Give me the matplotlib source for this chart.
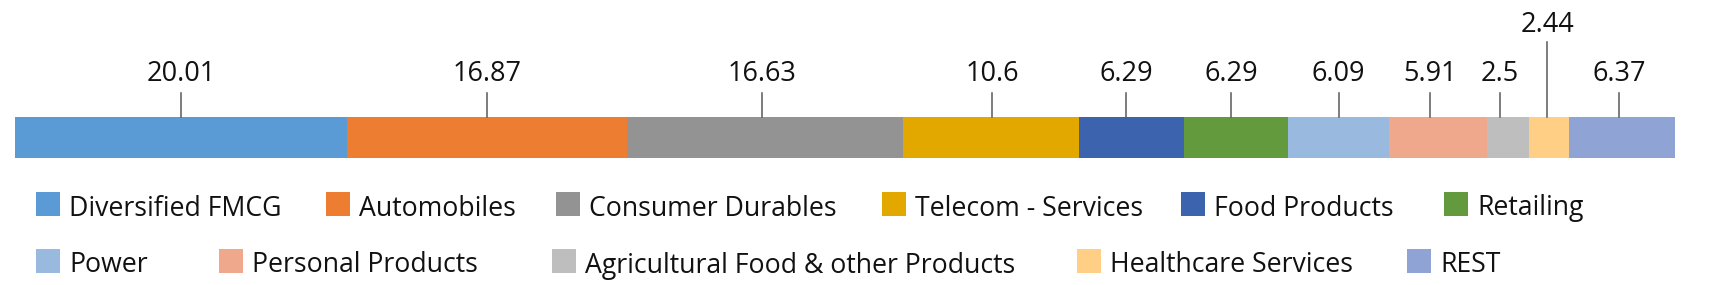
import matplotlib
matplotlib.use("Agg")
import matplotlib.pyplot as plt
from matplotlib.patches import Rectangle

# sector weights (%)
sectors = ["Diversified FMCG", "Automobiles", "Consumer Durables", "Telecom - Services",
           "Food Products", "Retailing", "Power", "Personal Products",
           "Agricultural Food & other Products", "Healthcare Services", "REST"]
weights = [20.01, 16.87, 16.63, 10.6, 6.29, 6.29, 6.09, 5.91, 2.5, 2.44, 6.37]
labels = ["20.01", "16.87", "16.63", "10.6", "6.29", "6.29", "6.09", "5.91", "2.5", "2.44", "6.37"]
colors = ["#5B9BD5", "#ED7D31", "#939393", "#E2A800", "#3C64AE", "#629A3D",
          "#99B9DF", "#F0A88C", "#BEBEBE", "#FFCF86", "#8FA3D4"]
# labels that need to be lifted to avoid overlapping neighbours
lifted = [False] * 9 + [True, False]
# small horizontal nudges of the label leaders (pixels), as in the original
nudge = [0, 0, -3.5, 1, -5, -5, 0, -8, -8.5, -2, -3]

W, H = 1724, 285
plt.rcParams["font.family"] = ["Open Sans", "DejaVu Sans"]

fig = plt.figure(figsize=(W / 100, H / 100), dpi=100)

# bar axes: x in percent, y in pixel rows from the top
bar_w = 1660
ax = fig.add_axes([15 / W, 0, bar_w / W, 1])
ax.set_xlim(0, 100)
ax.set_ylim(H, 0)
ax.axis("off")

left = 0.0
for w, lab, c, up, dx in zip(weights, labels, colors, lifted, nudge):
    ax.barh(137.5, w, left=left, height=41, color=c, edgecolor="none")
    mid = left + w / 2 + dx * 100 / bar_w
    top = 42 if up else 93
    base = 32 if up else 81
    ax.plot([mid, mid], [top, 117], color="#595959", lw=1.1)
    ax.text(mid, base, lab, ha="center", va="baseline", fontsize=19.5, color="#111111")
    left += w

# legend, laid out in two rows like the original
lg = fig.add_axes([0, 0, 1, 1])
lg.set_xlim(0, W)
lg.set_ylim(H, 0)
lg.axis("off")
leg_x = [36, 326, 556, 882, 1181, 1444, 36, 219, 552, 1077, 1407]
leg_row = [0, 0, 0, 0, 0, 0, 1, 1, 1, 1, 1]
row_base = [215.5, 272.5]
for name, c, x, r in zip(sectors, colors, leg_x, leg_row):
    b = row_base[r]
    lg.add_patch(Rectangle((x, b - 24), 24, 24, color=c, lw=0))
    lg.text(x + 33, b, name, ha="left", va="baseline", fontsize=19.2, color="#111111")

fig.savefig("out.png", dpi=100)
